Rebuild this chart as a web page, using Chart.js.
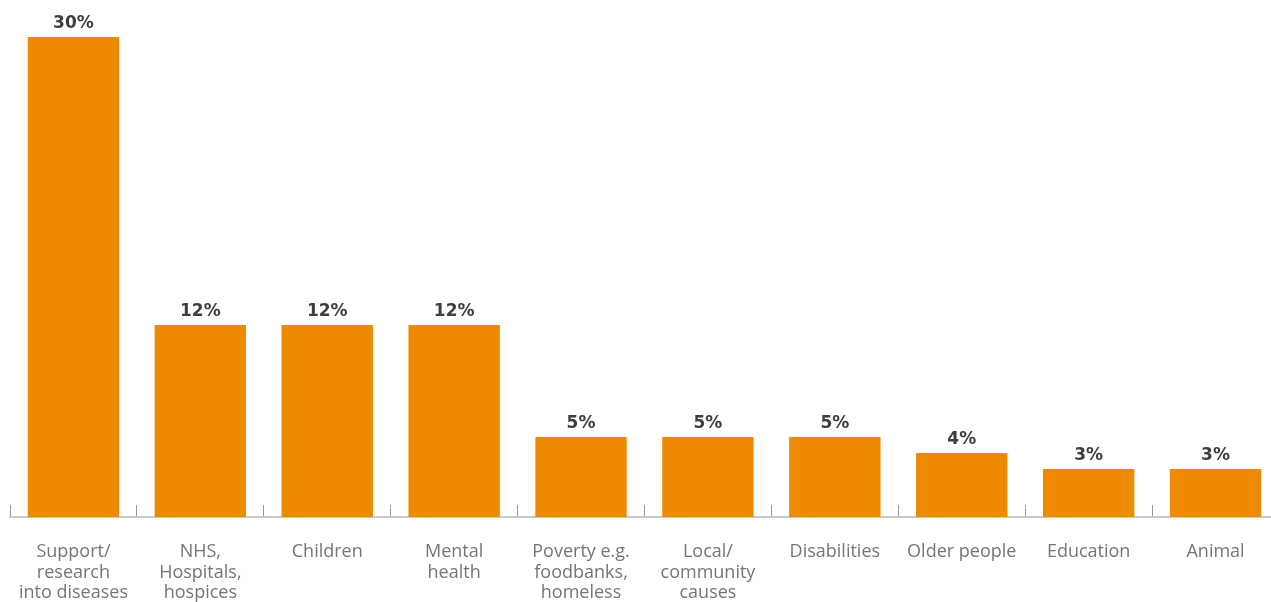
<!DOCTYPE html>
<html>
<head>
<meta charset="utf-8">
<script src="https://cdn.jsdelivr.net/npm/chart.js@4.4.0/dist/chart.umd.min.js"></script>
<style>
html,body{margin:0;padding:0;background:#fff;overflow:hidden;}
#wrap{width:1281px;height:602px;}
</style>
</head>
<body>
<div id="wrap"><canvas id="c" width="1281" height="602"></canvas></div>
<script>
const categories = [
  ["Support/", "research", "into diseases"],
  ["NHS,", "Hospitals,", "hospices"],
  ["Children"],
  ["Mental", "health"],
  ["Poverty e.g.", "foodbanks,", "homeless"],
  ["Local/", "community", "causes"],
  ["Disabilities"],
  ["Older people"],
  ["Education"],
  ["Animal"]
];
const values = [30, 12, 12, 12, 5, 5, 5, 4, 3, 3];
const valueLabels = ["30%", "12%", "12%", "12%", "5%", "5%", "5%", "4%", "3%", "3%"];

const labelPlugin = {
  id: 'valueLabels',
  afterDatasetsDraw(chart) {
    const ctx = chart.ctx;
    const meta = chart.getDatasetMeta(0);
    ctx.save();
    ctx.font = 'bold 17px "DejaVu Sans", sans-serif';
    ctx.fillStyle = '#3b3e43';
    ctx.textAlign = 'center';
    ctx.textBaseline = 'alphabetic';
    meta.data.forEach((bar, i) => {
      ctx.fillText(valueLabels[i], bar.x, bar.y - 9);
    });
    ctx.restore();
  }
};

new Chart(document.getElementById('c'), {
  type: 'bar',
  data: {
    labels: categories,
    datasets: [{
      data: values,
      backgroundColor: '#EE8A00',
      borderWidth: 0,
      categoryPercentage: 0.72,
      barPercentage: 1.0
    }]
  },
  options: {
    responsive: false,
    animation: false,
    layout: { padding: { top: 37, left: 10, right: 2, bottom: 0 } },
    plugins: { legend: { display: false }, tooltip: { enabled: false } },
    scales: {
      y: { display: false, min: 0, max: 30 },
      x: {
        offset: true,
        afterFit(scale) {
          scale.height = 85;
          scale.paddingLeft = 0;
          scale.paddingRight = 0;
        },
        grid: {
          display: true,
          offset: true,
          drawOnChartArea: false,
          drawTicks: true,
          tickLength: -12,
          color: '#9a9a9a'
        },
        border: { display: true, color: '#c8c8c8', width: 2 },
        ticks: {
          color: '#72767b',
          font: { family: '"Open Sans", sans-serif', size: 18, lineHeight: 1.14 },
          padding: 37,
          maxRotation: 0,
          autoSkip: false
        }
      }
    }
  },
  plugins: [labelPlugin]
});
</script>
</body>
</html>
